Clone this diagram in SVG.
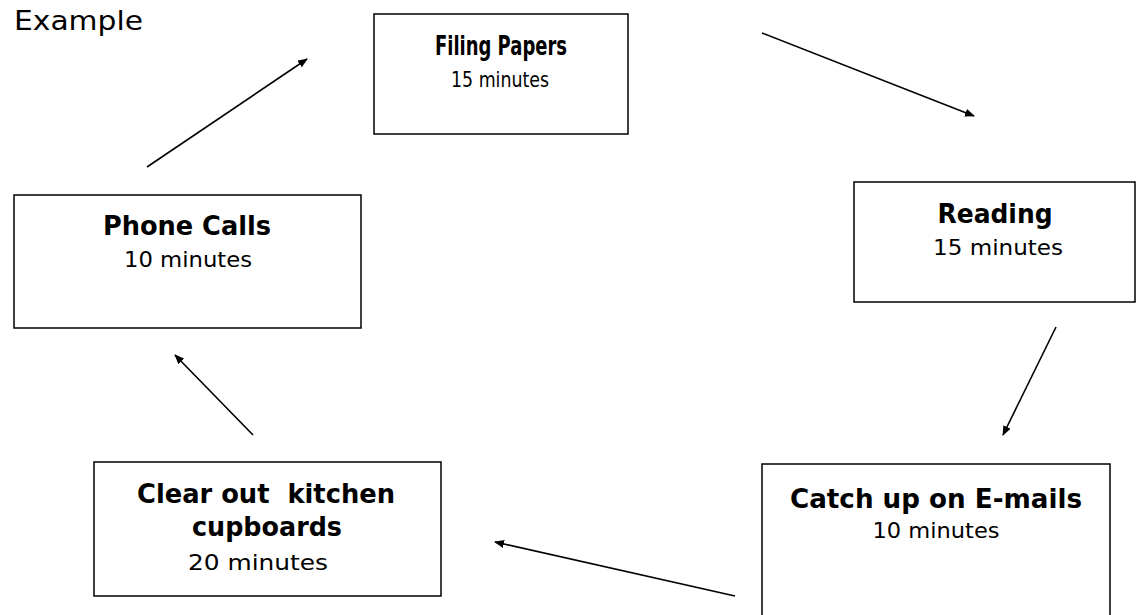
<svg xmlns="http://www.w3.org/2000/svg" width="1136" height="615" viewBox="0 0 1136 615">
<style>
.box{fill:#fff;stroke:#000;stroke-width:1.5}
.t{font-family:"DejaVu Sans","Liberation Sans",sans-serif;fill:#000;text-anchor:middle}
.b{font-weight:bold;font-size:26px}
.r{font-size:22px}
.c{stroke:#000;stroke-width:1.6;fill:none;marker-end:url(#ah)}
</style>
<defs>
<marker id="ah" viewBox="0 0 10 8" refX="9" refY="4" markerWidth="10" markerHeight="8" markerUnits="userSpaceOnUse" orient="auto">
<path d="M0,0 L10,4 L0,8 Z" fill="#000"/>
</marker>
</defs>
<rect width="1136" height="615" fill="#fff"/>
<text x="14" y="30" font-family="DejaVu Sans, Liberation Sans, sans-serif" font-size="27" textLength="129" lengthAdjust="spacingAndGlyphs">Example</text>

<g id="connectors">
<line class="c" x1="147" y1="167" x2="307" y2="59"/>
<line class="c" x1="762" y1="33" x2="974" y2="116"/>
<line class="c" x1="1056" y1="327" x2="1003" y2="435"/>
<line class="c" x1="735" y1="596" x2="495" y2="542"/>
<line class="c" x1="253" y1="435" x2="175" y2="355"/>
</g>

<g id="filing">
<rect class="box" x="374" y="14" width="254" height="120"/>
<text class="t b" x="501" y="55" textLength="132" lengthAdjust="spacingAndGlyphs">Filing Papers</text>
<text class="t r" x="500" y="87" textLength="98" lengthAdjust="spacingAndGlyphs">15 minutes</text>
</g>

<g id="reading">
<rect class="box" x="854" y="182" width="281" height="120"/>
<text class="t b" x="995" y="223" textLength="115" lengthAdjust="spacingAndGlyphs">Reading</text>
<text class="t r" x="998" y="255" textLength="130" lengthAdjust="spacingAndGlyphs">15 minutes</text>
</g>

<g id="phone">
<rect class="box" x="14" y="195" width="347" height="133"/>
<text class="t b" x="187" y="235" textLength="168" lengthAdjust="spacingAndGlyphs">Phone Calls</text>
<text class="t r" x="188" y="267" textLength="128" lengthAdjust="spacingAndGlyphs">10 minutes</text>
</g>

<g id="catchup">
<rect class="box" x="762" y="464" width="348" height="170"/>
<text class="t b" x="936" y="508" textLength="292" lengthAdjust="spacingAndGlyphs">Catch up on E-mails</text>
<text class="t r" x="936" y="538" textLength="127" lengthAdjust="spacingAndGlyphs">10 minutes</text>
</g>

<g id="clear">
<rect class="box" x="94" y="462" width="347" height="134"/>
<text class="t b" x="266" y="503" xml:space="preserve" textLength="258" lengthAdjust="spacingAndGlyphs">Clear out  kitchen</text>
<text class="t b" x="267" y="536" textLength="150" lengthAdjust="spacingAndGlyphs">cupboards</text>
<text class="t r" x="258" y="570" textLength="140" lengthAdjust="spacingAndGlyphs">20 minutes</text>
</g>
</svg>
